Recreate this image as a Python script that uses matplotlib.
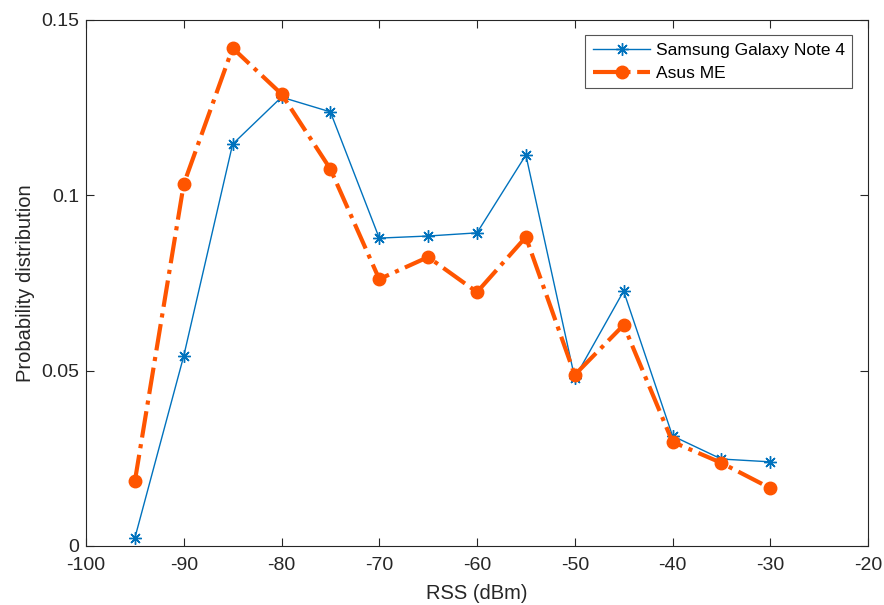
import matplotlib
matplotlib.use("Agg")
import matplotlib.pyplot as plt

rss = [-95, -90, -85, -80, -75, -70, -65, -60, -55, -50, -45, -40, -35, -30]
samsung = [0.0023, 0.0542, 0.1146, 0.1280, 0.1238, 0.0878, 0.0884, 0.0893,
           0.1115, 0.0479, 0.0727, 0.0314, 0.0248, 0.0240]
asus = [0.0185, 0.1032, 0.1420, 0.1289, 0.1075, 0.0761, 0.0824, 0.0724,
        0.0881, 0.0488, 0.0630, 0.0297, 0.0237, 0.0165]

xticks = [-100, -90, -80, -70, -60, -50, -40, -30, -20]
yticks = [0, 0.05, 0.1, 0.15]
yticklabels = ["0", "0.05", "0.1", "0.15"]

plt.rcParams["font.family"] = ["Liberation Sans", "DejaVu Sans"]
plt.rcParams["font.size"] = 14
plt.rcParams["axes.unicode_minus"] = False

fig = plt.figure(figsize=(8.84, 6.05), dpi=100)
ax = fig.add_axes([86 / 884, 1 - 546 / 605, 782 / 884, 526 / 605])

ax.plot(rss, samsung, color="#0072BD", lw=1.0, marker=(8, 2, 0), ms=9,
        mew=1.0, label="Samsung Galaxy Note 4")
ax.plot(rss, asus, color="#FF5500", lw=3.0, ls="-.", marker="o", ms=9,
        label="Asus ME")

ax.set_xlim(-100, -20)
ax.set_ylim(0, 0.15)
ax.set_xticks(xticks)
ax.set_yticks(yticks)
ax.set_yticklabels(yticklabels)
ax.tick_params(direction="in", top=True, right=True, length=6,
               colors="#262626", labelsize=14, pad=5)
ax.tick_params(axis="x", pad=8)
for s in ax.spines.values():
    s.set_color("#262626")
    s.set_linewidth(0.8)

ax.set_xlabel("RSS (dBm)", color="#262626", fontsize=14.5, labelpad=7)
ax.set_ylabel("Probability distribution", color="#262626", fontsize=14.5,
              labelpad=4)

leg = ax.legend(loc="upper right", bbox_to_anchor=(0.98, 0.972),
                fancybox=False, framealpha=1, edgecolor="#555555",
                fontsize=12.5, handlelength=3.3, borderpad=0.45,
                labelspacing=0.45, handletextpad=0.3, borderaxespad=0)
leg.get_frame().set_linewidth(0.8)

fig.savefig("out.png", dpi=100)
